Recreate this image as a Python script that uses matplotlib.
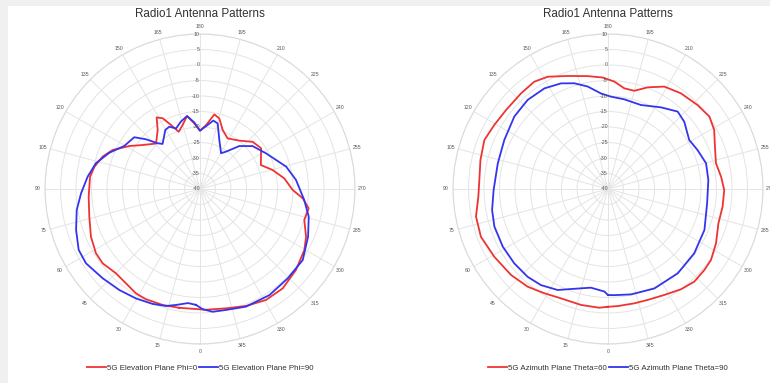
import numpy as np
import matplotlib
matplotlib.use("Agg")
import matplotlib.pyplot as plt
from matplotlib.patches import Rectangle

plt.rcParams['font.family'] = ['Liberation Sans', 'DejaVu Sans']

# ---------------- data ----------------
title_text = "Radio1 Antenna Patterns"
angle_ticks = list(range(0, 360, 15))
angle_labels = [str(a) for a in angle_ticks]
r_ticks = [-40, -35, -30, -25, -20, -15, -10, -5, 0, 5, 10]

# Left chart: elevation planes
elev_phi0_ang = [9.9, 17.8, 26.1, 31.5, 39.2, 44.9, 52.6, 58.3, 66.4, 76, 86, 96.4, 101.9,
                 108.4, 114, 121.3, 127.5, 136, 144.3, 148.8, 152.2, 155.6, 159.6, 164.8,
                 169.9, 174.9, 180, 185.4, 190.9, 195.3, 201, 208.6, 219.1, 228.1, 236.3,
                 248.5, 255.3, 262.8, 270.6, 275.2, 280.1, 286.5, 294.2, 300.3, 310.2,
                 320.2, 329.3, 338.5, 347.7, 357.2]
elev_phi0_db = [-1.1, -0.7, -0.4, -0.5, -1.4, -1.6, -0.5, -0.55, -1.6, -3.2, -4.0, -4.3, -5.2,
                -6.9, -9.1, -13.3, -16.7, -19.6, -16.6, -13.0, -14.2, -17.3, -20.3, -18.6,
                -16.1, -18.7, -21.2, -19.3, -15.5, -16.4, -19.6, -21.4, -19.9, -17.2, -16.3,
                -18.9, -15.8, -12.6, -10.1, -6.7, -4.4, -4.9, -2.5, -1.0, 0.5,
                1.7, 1.65, 0.55, -0.6, -1.0]

elev_phi90_ang = [2, 6, 11.7, 16.2, 22.4, 30.3, 38.6, 47.5, 56.9, 63.3, 71.7, 80.3, 87.9,
                  96.3, 103.9, 111.8, 119.6, 128.2, 132.6, 137.2, 140.3, 149.6, 153.8,
                  158.4, 164.2, 169.9, 175, 180, 186.8, 191, 195.1, 201.5, 210.5, 214.9,
                  222.5, 230.8, 241.6, 255.4, 264.6, 276, 284.3, 293.8, 304.7, 315.5,
                  326.8, 338.6, 347.9, 354.1, 358.7]
elev_phi90_db = [-2.6, -3.0, -1.8, -0.7, 0.1, 0.9, 1.7, 2.6, 3.9, 3.8, 2.1, 0.35, -1.6,
                 -3.55, -5.4, -8.5, -11.9, -13.0, -16.3, -19.9, -21.1, -17.9, -17.6,
                 -19.0, -17.4, -16.1, -18.4, -21.2, -19.2, -17.5, -18.1, -23.0, -26.6, -25.3,
                 -21.2, -18.1, -15.8, -11.3, -8.9, -6.2, -3.8, -1.9, 0.3, 0.4,
                 0.9, 0.75, -0.1, -0.2, -1.2]

# Right chart: azimuth planes
azim_t60_ang = [0.2, 4.2, 13.1, 23.3, 31.4, 39.4, 48.4, 59.2, 69.4, 78.2, 86.6, 94, 102.8,
                111.6, 119.4, 127.8, 137.7, 145.5, 151.8, 160.4, 169.8, 177.3, 183.4,
                189.2, 195, 201.3, 208.8, 217.3, 226.9, 234.5, 240.9, 248.4, 256.6, 263.8,
                270.5, 278.8, 287.3, 296.7, 304.6, 310, 317, 324, 332, 340.3, 347, 355.3]
azim_t60_db = [-2.0, -1.6, -1.6, -1.6, -0.6, 0.8, 1.8, 2.7, 3.8, 3.5, 1.9, 1.6, 2.2,
               2.9, 2.1, 1.6, 1.7, 2.0, 1.1, -1.3, -3.0, -4.0, -5.3,
               -7.1, -7.2, -4.8, -2.3, -1.2, -0.4, 0.2, -0.8, -2.9, -4.2, -3.3,
               -2.5, -2.6, -2.7, -1.0, 0.35, 0.6, 0.85, 0.0, -1.3, -2.0, -2.15, -2.1]

azim_t90_ang = [0, 2, 9.8, 15.2, 26.5, 34.9, 42.5, 51.6, 61.3, 71.7, 79.7, 89.5, 103.1,
                115.3, 127.7, 137.9, 147.7, 156, 162.3, 168.8, 175.8, 181.9, 190.3, 201.4,
                213, 222, 228.6, 238.9, 246.5, 255.3, 264.9, 278.2, 293, 306.7, 320.4,
                335, 347.7, 356.6]
azim_t90_db = [-5.8, -6.9, -7.7, -6.8, -3.6, -2.2, -1.6, -1.4, -1.3, -1.4, -2.0, -3.1, -3.5,
               -3.0, -1.8, -1.3, -1.6, -2.7, -4.2, -6.3, -9.1, -10.2, -10.6, -10.9,
               -8.6, -6.4, -7.2, -9.4, -8.5, -7.3, -7.5, -7.7, -6.2, -5.3, -4.7,
               -4.6, -5.2, -5.7]

panels = [
    dict(cx=200, series=[("5G Elevation Plane Phi=0", elev_phi0_ang, elev_phi0_db, '#ee3333'),
                         ("5G Elevation Plane Phi=90", elev_phi90_ang, elev_phi90_db, '#3434ee')]),
    dict(cx=608, series=[("5G Azimuth Plane Theta=60", azim_t60_ang, azim_t60_db, '#ee3333'),
                         ("5G Azimuth Plane Theta=90", azim_t90_ang, azim_t90_db, '#3434ee')]),
]

# ---------------- figure ----------------
W, H = 770, 383
fig = plt.figure(figsize=(W / 100, H / 100), dpi=100, facecolor='white')
# grey frame strips (top and left)
fig.patches.append(Rectangle((0, 1 - 6 / H), 1, 6 / H, transform=fig.transFigure,
                             facecolor='#f0f0f0', edgecolor='none', zorder=0))
fig.patches.append(Rectangle((0, 0), 8 / W, 1, transform=fig.transFigure,
                             facecolor='#f0f0f0', edgecolor='none', zorder=0))

cy, R = 189, 155
grid_col = '#e4e4e4'
for p in panels:
    cx = p['cx']
    ax = fig.add_axes([(cx - R) / W, (H - cy - R) / H, 2 * R / W, 2 * R / H],
                      projection='polar')
    ax.set_theta_zero_location('S')
    ax.set_theta_direction(-1)
    ax.set_ylim(-40, 10)
    ax.set_yticks(r_ticks[1:])
    ax.set_yticklabels([])
    ax.set_thetagrids(angle_ticks, angle_labels)
    ax.tick_params(axis='x', labelsize=3.7, pad=-1.8, colors='#555555', length=0)
    ax.tick_params(axis='y', length=0)
    ax.grid(True, color=grid_col, linewidth=0.7)
    ax.spines['polar'].set_color('#dadada')
    ax.spines['polar'].set_linewidth(0.8)
    ax.set_facecolor('white')
    for rv in r_ticks:
        ax.text(np.pi, rv, str(rv), ha='right', va='center', fontsize=3.8,
                color='#555555', zorder=5)
    for label, ang, db, col in p['series']:
        a = np.deg2rad(np.append(ang, ang[0]))
        d = np.append(db, db[0])
        ax.plot(a, d, color=col, linewidth=1.3, label=label, zorder=4,
                solid_joinstyle='round')
    fig.text(cx / W, 1 - 17.3 / H, title_text, ha='center', va='baseline',
             fontsize=8.4, color='#333333')
    ax.legend(loc='center', bbox_to_anchor=(cx / W, 1 - 368 / H),
              bbox_transform=fig.transFigure, ncol=2, frameon=False,
              fontsize=5.7, handlelength=2.4, handletextpad=0.15,
              columnspacing=0.25, labelcolor='#333333')

fig.savefig('out.png', dpi=100, facecolor='white')
